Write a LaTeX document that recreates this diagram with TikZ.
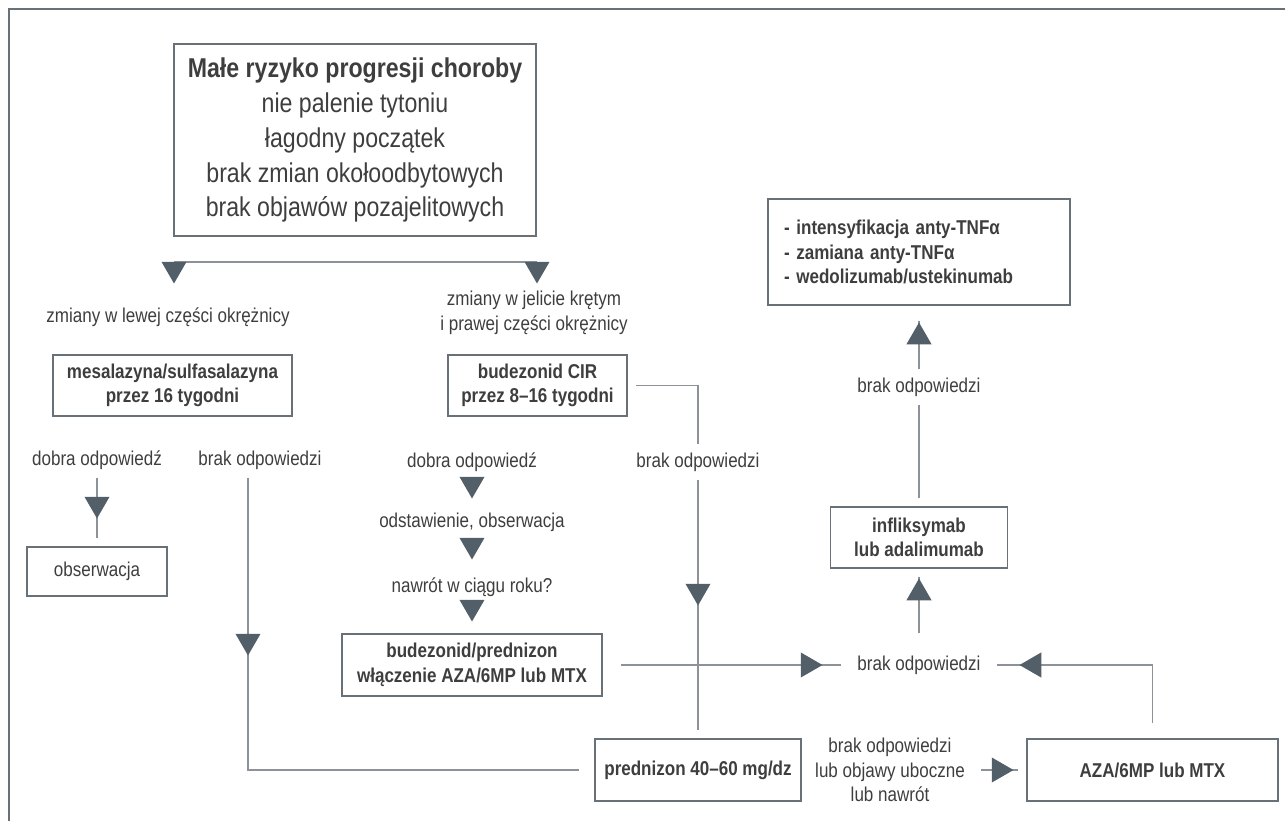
\documentclass[tikz,border=0pt]{standalone}
\usepackage{fontspec}
\setmainfont{Liberation Sans}[FakeStretch=0.85]
\usetikzlibrary{arrows.meta,calc,positioning,shapes.geometric}

\definecolor{linec}{RGB}{140,146,152}
\definecolor{boxc}{RGB}{104,112,120}
\definecolor{tric}{RGB}{82,94,104}
\definecolor{txtc}{RGB}{62,62,62}

\begin{document}
\begin{tikzpicture}[
    x=0.02cm, y=-0.02cm,
    font=\fontsize{11.4}{14}\selectfont,
    text=txtc,
    conn/.style={draw=linec, line width=0.8pt},
    frame/.style={draw=boxc, line width=0.8pt},
    box/.style={draw=boxc, line width=0.75pt, align=center, inner sep=2pt, outer sep=5pt,
                font=\fontsize{11.4}{14}\selectfont\bfseries},
    lbl/.style={align=center, inner xsep=9pt, inner ysep=4.5pt},
    tri/.style={regular polygon, regular polygon sides=3, fill=tric, draw=none,
                inner sep=0pt, minimum size=0.58cm},
    tdown/.style={tri, shape border rotate=180},
    tup/.style={tri},
    tleft/.style={tri, shape border rotate=90},
    tright/.style={tri, shape border rotate=-90}
]
\useasboundingbox (0,0) rectangle (1285,821);

% ---- column x-positions ----
\def\cObs{97}
\def\cMid{472}
\def\cPred{698}
\def\cInf{919}

% ---- outer frame (top and left only) ----
\draw[frame] (1285,9) -| (9,821);

% ===== START =====
\node[box, font=\fontsize{15.5}{19.9}\selectfont, minimum width=7.24cm, minimum height=3.84cm]
    (risk) at (355,140)
    {{\bfseries Małe ryzyko progresji choroby}\\nie palenie tytoniu\\łagodny początek\\
     brak zmian okołoodbytowych\\brak objawów pozajelitowych};

\coordinate (jL) at (174,262);
\coordinate (jR) at (537,262);
\draw[conn] (jL) -- (jR);

\node[lbl] (lewa)  at (168,317) {zmiany w lewej części okrężnicy};
\node[lbl] (prawa) at (534,313) {zmiany w jelicie krętym\\i prawej części okrężnicy};

% ===== LEFT BRANCH =====
\node[box, minimum width=4.78cm, minimum height=1.22cm] (mes) at (172.5,385.5)
    {mesalazyna/sulfasalazyna\\przez 16 tygodni};
\node[lbl] (dobL)  at (\cObs,460) {dobra odpowiedź};
\node[lbl] (brakL) at (260,460) {brak odpowiedzi};
\node[box, font=\fontsize{11.4}{14}\selectfont, minimum width=2.8cm, minimum height=0.98cm]
    (obs) at (\cObs,571.5) {obserwacja};

% ===== MIDDLE BRANCH =====
\node[box, minimum width=3.58cm, minimum height=1.22cm] (bud) at (537.5,385.5)
    {budezonid CIR\\przez 8–16 tygodni};
\node[lbl] (dobM)   at (\cMid,462) {dobra odpowiedź};
\node[lbl] (odst)   at (\cMid,522) {odstawienie, obserwacja};
\node[lbl] (nawrot) at (\cMid,587) {nawrót w ciągu roku?};
\node[box, minimum width=5.2cm, minimum height=1.24cm] (bp) at (\cMid,665)
    {budezonid/prednizon\\włączenie AZA/6MP lub MTX};
\node[lbl] (brakR) at (\cPred,462) {brak odpowiedzi};

% ===== BOTTOM ROW =====
\node[box, minimum width=4.12cm, minimum height=1.24cm] (predn) at (\cPred,770)
    {prednizon 40–60 mg/dz};
\node[lbl] (skutki) at (890,770) {brak odpowiedzi\\lub objawy uboczne\\lub nawrót};
\node[box, minimum width=5.02cm, minimum height=1.24cm] (aza) at (1152.5,770)
    {AZA/6MP lub MTX};

% ===== RIGHT COLUMN =====
\node[lbl] (brakM) at (\cInf,665) {brak odpowiedzi};
\node[box, minimum width=3.54cm, minimum height=1.22cm] (inf) at (\cInf,537.5)
    {infliksymab\\lub adalimumab};
\node[lbl] (brakU) at (\cInf,387) {brak odpowiedzi};
\node[box, align=left, text width=5.4cm, inner xsep=0.32cm, minimum height=2.12cm]
    (tnf) at (\cInf,252)
    {- intensyfikacja anty-TNFα\\- zamiana anty-TNFα\\- wedolizumab/ustekinumab};

% ---- connectors ----
\coordinate (kL) at (248,771);
\draw[conn] (dobL) -- (obs);
\draw[conn, shorten >=4pt] (brakL.south -| kL) |- (predn.west);
\draw[conn] (bud) -| (brakR);
\draw[conn] (brakR) -- (predn);
\draw[conn, shorten <=6pt] (bp) -- (brakM);
\draw[conn, shorten <=4pt] (aza) |- (brakM);
\draw[conn, shorten <=8pt] (brakM) -- (inf);
\draw[conn] (inf) -- (brakU);
\draw[conn, shorten >=4pt] (brakU) -- (tnf);
\draw[conn] (skutki) -- (aza);

% ---- arrow heads (drawn on top) ----
\node[tdown] (sL) at (174,269) {};
\node[tdown] (sR) at (537,269) {};
\node[tdown] (aObs) at (\cObs,504) {};
\node[tdown] (aBrakL) at (248,641) {};
\node[tdown] (aM1) at (\cMid,484) {};
\node[tdown] (aM2) at (\cMid,545) {};
\node[tdown] (aM3) at (\cMid,607) {};
\node[tdown] (aPred) at (\cPred,591) {};
\node[tright] (aBp) at (808,665) {};
\node[tleft] (aAza) at (1034,665) {};
\node[tup] (aInf) at (\cInf,593) {};
\node[tup] (aTnf) at (\cInf,337) {};
\node[tright] (aSk) at (999,770) {};

\end{tikzpicture}
\end{document}
